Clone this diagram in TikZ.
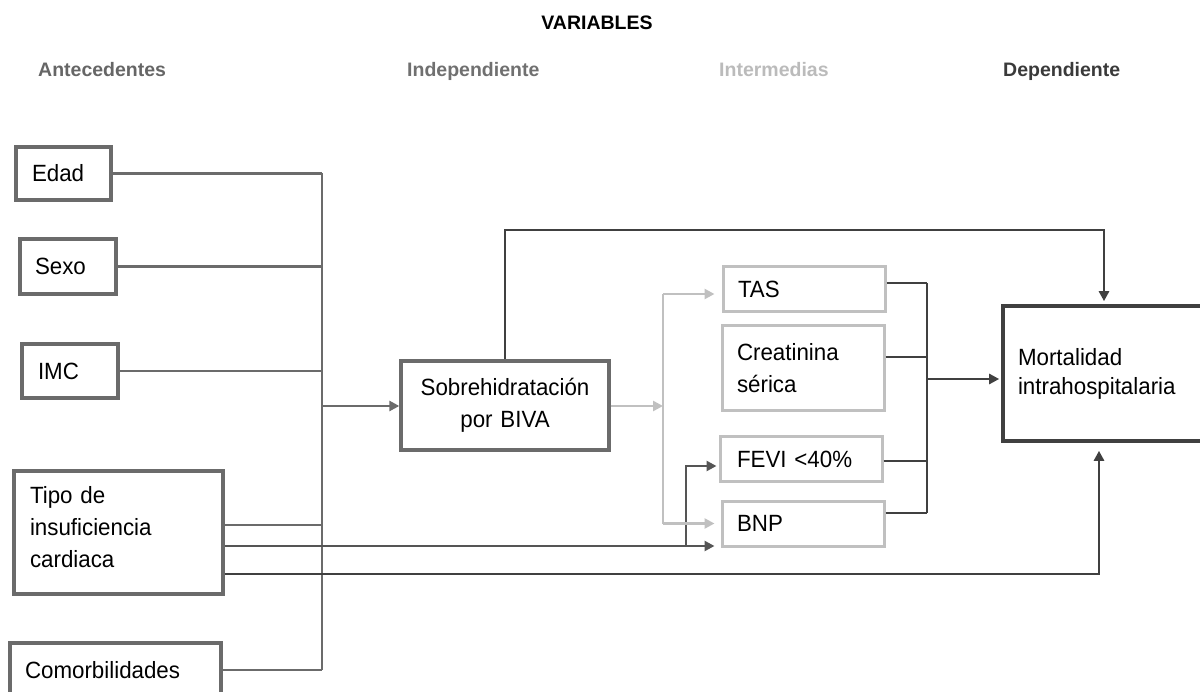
\documentclass[tikz,border=0pt]{standalone}
\usepackage{fontspec}
\setmainfont{Liberation Sans}[FakeStretch=0.95]
\newfontfamily\hdrfont{Liberation Sans}
\usetikzlibrary{arrows.meta}
\definecolor{antc}{HTML}{6B6B6B}
\definecolor{drk}{HTML}{404040}
\definecolor{mid}{HTML}{555555}
\definecolor{lgt}{HTML}{C0C0C0}
\definecolor{hant}{HTML}{666666}
\definecolor{hind}{HTML}{707070}
\definecolor{hint}{HTML}{BBBBBB}
\definecolor{hdep}{HTML}{3A3A3A}
\begin{document}
\begin{tikzpicture}[x=1pt,y=-1pt,
  box/.style={draw=antc, rectangle, line width=3.3pt, inner ysep=0pt, align=left,
    font=\fontsize{23.5}{31}\selectfont, anchor=center},
  ibox/.style={box, draw=lgt, line width=3pt},
  hdr/.style={font=\hdrfont\bfseries\fontsize{19.5}{22}\selectfont, anchor=base west, inner sep=0pt},
  conn/.style={draw=antc, line width=2.9pt},
  dconn/.style={draw=drk, line width=2.9pt},
  lconn/.style={draw=lgt, line width=2.9pt},
  tip/.style={-{Triangle[length=10pt,width=10pt]}}
]
\useasboundingbox (0,0) rectangle (1200,692);

% headers
\node[hdr, anchor=base, text=black] (hvar) at (597,30) {VARIABLES};
\node[hdr, text=hant] (hant) at (38,77) {Antecedentes};
\node[hdr, text=hind] (hind) at (407,77) {Independiente};
\node[hdr, text=hint] (hint) at (719,77) {Intermedias};
\node[hdr, text=hdep] (hdep) at (1003,77) {Dependiente};

% antecedent boxes
\node[box, inner xsep=16pt, text width=63pt, minimum height=53pt] (edad) at (63.5,173.5) {Edad};
\node[box, inner xsep=15pt, text width=66pt, minimum height=55pt] (sexo) at (68,266.5) {Sexo};
\node[box, inner xsep=16pt, text width=64pt, minimum height=54pt] (imc) at (70,371) {IMC};
\node[box, inner xsep=16pt, text width=177pt, minimum height=123pt,
  font=\fontsize{23.5}{32}\selectfont] (tipo) at (118.5,532.5) {Tipo de\\insuficiencia\\cardiaca\rule[-12pt]{0pt}{0pt}};
\node[box, inner xsep=15pt, text width=181pt, minimum height=54pt] (comor) at (115.5,670) {Comorbilidades};

% independent
\node[box, align=center, inner xsep=14pt, text width=180pt, minimum height=89pt,
  font=\fontsize{23.5}{32}\selectfont] (sobre) at (505,405.5) {Sobrehidrataci\'on\\por BIVA};

% intermediate
\node[ibox, inner xsep=15pt, text width=132pt, minimum height=45pt] (tas) at (804,289.5) {TAS};
\node[ibox, inner xsep=15pt, text width=132pt, minimum height=85pt,
  font=\fontsize{23.5}{32}\selectfont] (crea) at (803,368.5) {Creatinina\\s\'erica};
\node[ibox, inner xsep=17pt, text width=128pt, minimum height=45pt] (fevi) at (801,459.5) {FEVI <40\%};
\node[ibox, inner xsep=15pt, text width=132pt, minimum height=45pt] (bnp) at (803,523.5) {BNP};

% dependent
\node[box, draw=drk, line width=3.6pt, inner xsep=15pt, text width=190pt, minimum height=135pt,
  font=\fontsize{23.5}{29}\selectfont] (mort) at (1113,373.5) {Mortalidad\\intrahospitalaria};

% helper coordinates
\path (322,0) coordinate (jx) (686,0) coordinate (xf) (663,0) coordinate (xg)
      (927,0) coordinate (xr) (1099,0) coordinate (xb) (1104,0) coordinate (xt);
\path (0,525) coordinate (ya) (0,546) coordinate (yb) (0,574) coordinate (yc)
      (0,466) coordinate (yf) (0,230) coordinate (ytop) (0,294) coordinate (yT)
      (0,283) coordinate (r1) (0,357) coordinate (r2) (0,461) coordinate (r3)
      (0,513) coordinate (r4) (0,379) coordinate (r5) (0,406) coordinate (ys);

% antecedent connectors
\draw[conn] (edad.east) -- (edad.east -| jx);
\draw[conn] (sexo.east) -- (sexo.east -| jx);
\draw[conn] (imc.east) -- (imc.east -| jx);
\draw[conn] (tipo.east |- ya) -- (jx |- ya);
\draw[conn] (comor.east) -- (comor.east -| jx);
\draw[conn] (edad.east -| jx) -- (comor.east -| jx);
\draw[conn, tip] (jx |- ys) -- (sobre.west |- ys);

% tipo direct links
\draw[draw=mid, line width=2.9pt, tip, shorten >=6pt] (tipo.east |- yb) -- (bnp.west |- yb);
\draw[draw=mid, line width=2.9pt, tip, shorten >=2pt] (xf |- yb) -- (xf |- yf) -- (fevi.west |- yf);
\draw[dconn, tip, shorten >=8pt] (tipo.east |- yc) -| (mort.south -| xb);

% top link
\draw[dconn, tip, shorten >=3pt] (sobre.north) |- (xt |- ytop) -- (mort.north -| xt);

% light gray links
\draw[lconn, tip] (sobre.east |- ys) -- (xg |- ys);
\draw[lconn] (xg |- yT) -- (xg |- bnp.west);
\draw[lconn, tip, shorten >=7pt] (xg |- yT) -- (tas.west |- yT);
\draw[lconn, tip, shorten >=6pt] (xg |- bnp.west) -- (bnp.west);

% right junction
\draw[dconn] (tas.east |- r1) -- (xr |- r1);
\draw[dconn] (crea.east |- r2) -- (xr |- r2);
\draw[dconn] (fevi.east |- r3) -- (xr |- r3);
\draw[dconn] (bnp.east |- r4) -- (xr |- r4);
\draw[dconn] (xr |- r1) -- (xr |- r4);
\draw[dconn, tip, shorten >=2pt] (xr |- r5) -- (mort.west |- r5);
\end{tikzpicture}
\end{document}
